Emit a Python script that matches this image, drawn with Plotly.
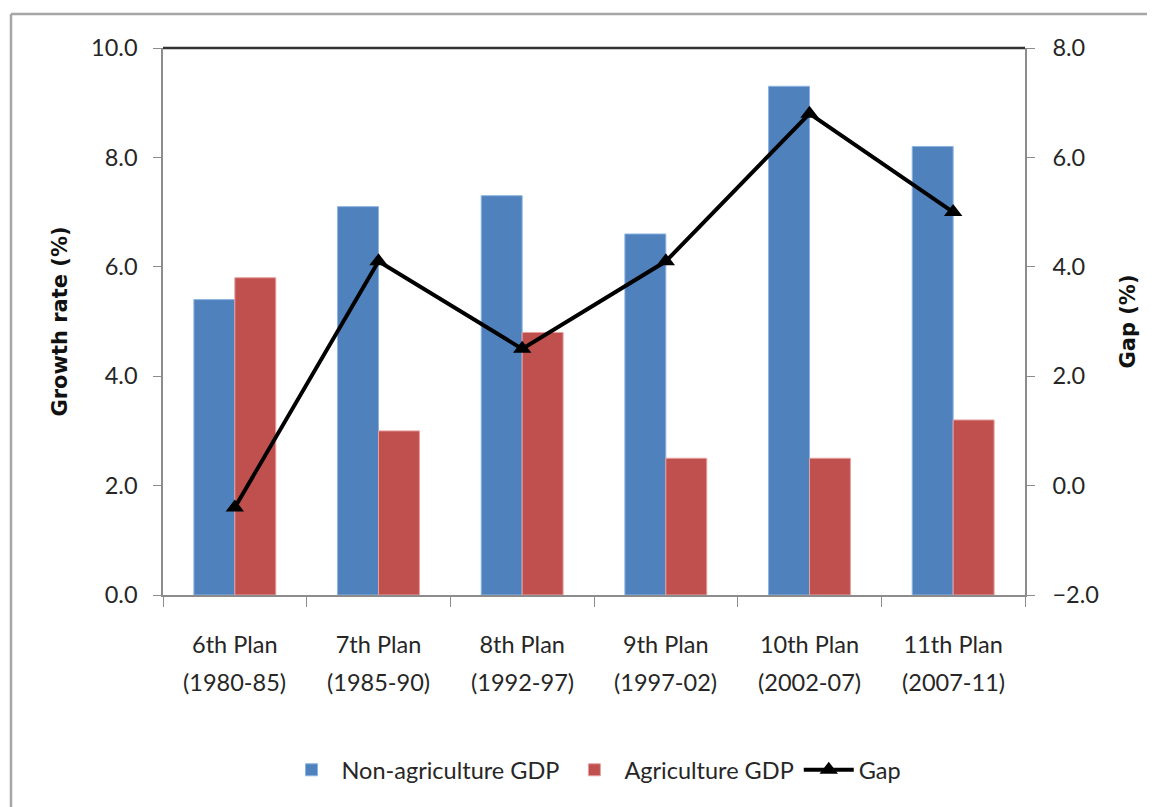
import plotly.graph_objects as go

plans = ["6th Plan", "7th Plan", "8th Plan", "9th Plan", "10th Plan", "11th Plan"]
periods = ["(1980-85)", "(1985-90)", "(1992-97)", "(1997-02)", "(2002-07)", "(2007-11)"]
non_agri = [5.4, 7.1, 7.3, 6.6, 9.3, 8.2]
agri = [5.8, 3.0, 4.8, 2.5, 2.5, 3.2]
gap = [-0.4, 4.1, 2.5, 4.1, 6.8, 5.0]

FONT = "Lato, sans-serif"
TFONT = "DejaVu Sans, sans-serif"
FS = 23.5
TXT = "#262626"
# page has an 8px body margin; figure coordinates are page coordinates minus 8
W, H = 1147, 799
L, T = 155, 40
pw, ph = 862, 547
R, B = W - L - pw, H - T - ph
bottom = T + ph


def py(fig_y):
    return (bottom - fig_y) / ph


def px(fig_x):
    return (fig_x - L) / pw


fig = go.Figure()
fig.add_trace(go.Bar(x=plans, y=non_agri, name="Non-agriculture GDP",
                     marker=dict(color="#4F81BD", line=dict(color="#8DB3E2", width=1))))
fig.add_trace(go.Bar(x=plans, y=agri, name="Agriculture GDP",
                     marker=dict(color="#C0504D", line=dict(color="#E6A0A0", width=1))))
fig.add_trace(go.Scatter(x=plans, y=gap, name="Gap", yaxis="y2", mode="lines+markers",
                         line=dict(color="black", width=4),
                         marker=dict(symbol="triangle-up", size=16, color="black")))

annotations = []
for p, per in zip(plans, periods):
    annotations.append(dict(x=p, y=py(674), xref="x", yref="paper", text=per,
                            showarrow=False, font=dict(family=FONT, size=FS, color=TXT),
                            xanchor="center", yanchor="middle"))

axis_common = dict(showline=True, linecolor="#8c8c8c", linewidth=1.5, ticks="outside",
                   tickcolor="#8c8c8c", showgrid=False, zeroline=False,
                   tickfont=dict(family=FONT, size=FS, color=TXT), fixedrange=True)

frame = dict(color="#a6a6a6", width=2.5)

fig.update_layout(
    width=W, height=H,
    margin=dict(l=L, r=R, t=T, b=B),
    paper_bgcolor="white", plot_bgcolor="white",
    barmode="group", bargap=0.43, bargroupgap=0,
    font=dict(family=FONT, size=FS, color=TXT),
    xaxis=dict(**axis_common, tickson="boundaries", ticklen=10, ticklabelstandoff=28),
    yaxis=dict(**axis_common, range=[0, 10], dtick=2, tickformat=".1f", ticklen=8,
               ticklabelstandoff=11,
               title=dict(text="<b>Growth rate (%)</b>", standoff=18,
                          font=dict(family=TFONT, size=21, color="#111"))),
    yaxis2=dict(**axis_common, range=[-2, 8], dtick=2, tickformat=".1f", overlaying="y",
                side="right", ticklen=8, ticklabelstandoff=13,
                title=dict(text="<b>Gap (%)</b>", standoff=22,
                           font=dict(family=TFONT, size=21, color="#111"))),
    legend=dict(orientation="h", x=0.5, xanchor="center", y=py(762),
                yanchor="middle", font=dict(family=FONT, size=FS, color=TXT),
                itemwidth=50, traceorder="normal"),
    annotations=annotations,
    shapes=[
        dict(type="line", xref="paper", yref="paper", x0=0, x1=1, y0=1, y1=1,
             line=dict(color="#333", width=2.5)),
        dict(type="line", xref="paper", yref="paper", x0=px(3), x1=px(W), y0=py(6), y1=py(6),
             line=frame, layer="below"),
        dict(type="line", xref="paper", yref="paper", x0=px(3), x1=px(3), y0=py(6), y1=py(H),
             line=frame, layer="below"),
    ],
)

fig.write_html("out.html")
